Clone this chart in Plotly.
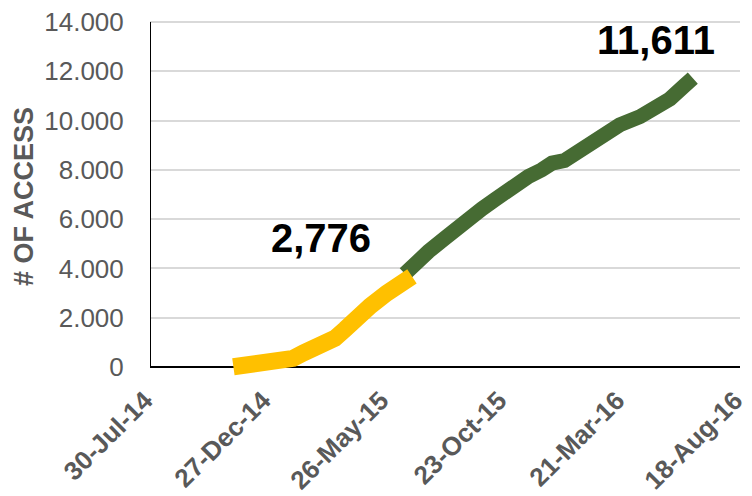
import plotly.graph_objects as go

# Phase 1 (yellow)
yellow_dates = ["2014-11-13", "2014-12-21", "2015-01-28", "2015-02-10", "2015-03-03",
                "2015-03-22", "2015-04-04", "2015-04-19", "2015-05-06", "2015-05-27",
                "2015-06-15", "2015-06-28"]
yellow_values = [10, 175, 350, 570, 800, 1165, 1530, 2040, 2475, 3000, 3420, 3680]

# Phase 2 (green)
green_dates = ["2015-06-19", "2015-07-06", "2015-07-19", "2015-08-09", "2015-09-03",
               "2015-09-25", "2015-10-11", "2015-10-28", "2015-11-23", "2015-12-10",
               "2015-12-23", "2016-01-08", "2016-01-29", "2016-02-22", "2016-03-18",
               "2016-04-13", "2016-04-29", "2016-05-21", "2016-06-07", "2016-06-19"]
green_values = [3783, 4351, 4688, 5231, 5945, 6419, 6784, 7190, 7729, 8000,
                8272, 8380, 8800, 9351, 9825, 10162, 10434, 10880, 11378, 11720]

x_tick_vals = ["2014-07-30", "2014-12-27", "2015-05-26", "2015-10-23", "2016-03-21", "2016-08-18"]
x_tick_text = ["30-Jul-14", "27-Dec-14", "26-May-15", "23-Oct-15", "21-Mar-16", "18-Aug-16"]
y_tick_vals = [0, 2000, 4000, 6000, 8000, 10000, 12000, 14000]
y_tick_text = ["0", "2.000", "4.000", "6.000", "8.000", "10.000", "12.000", "14.000"]

label_phase1 = "2,776"
label_phase2 = "11,611"
y_title = "# OF ACCESS"

FONT = "Liberation Sans, Arial"
GRAY = "#595959"
Y_MIN = -487   # a little room below zero so the thick line is not clipped
Y_MAX = 14041  # a hair above the top gridline so it is drawn

fig = go.Figure()
fig.add_trace(go.Scatter(x=green_dates, y=green_values, mode="lines",
                         line=dict(color="#466B33", width=15), hoverinfo="skip"))
fig.add_trace(go.Scatter(x=yellow_dates, y=yellow_values, mode="lines",
                         line=dict(color="#FFC000", width=17), hoverinfo="skip"))

fig.add_annotation(x="2015-03-04", y=5250, text=label_phase1, showarrow=False,
                   font=dict(family=FONT, size=40, color="black", weight="bold"))
fig.add_annotation(x="2016-05-03", y=13250, text=label_phase2, showarrow=False,
                   font=dict(family=FONT, size=40, color="black", weight="bold"))
fig.add_annotation(xref="paper", yref="y", x=(24 - 150) / 590, y=6900,
                   text=y_title, textangle=-90, showarrow=False,
                   xanchor="center", yanchor="middle",
                   font=dict(family=FONT, size=27, color=GRAY, weight="bold"))

# left axis line from 0 up to the top
fig.add_shape(type="line", xref="x", yref="y", x0=x_tick_vals[0], x1=x_tick_vals[0],
              y0=0, y1=14000, line=dict(color="black", width=2), layer="above")

fig.update_layout(
    width=744, height=488,
    margin=dict(l=142, r=12, t=13, b=117, autoexpand=False),
    paper_bgcolor="white", plot_bgcolor="white",
    showlegend=False,
    font=dict(family=FONT, color=GRAY),
    xaxis=dict(type="date", range=["2014-07-30", "2016-08-18"], automargin=False,
               tickvals=x_tick_vals, ticktext=x_tick_text, tickangle=-45,
               tickfont=dict(size=26, color=GRAY, weight="bold"),
               ticklabeloverflow="allow", ticklabelshift=-5,
               showgrid=False, zeroline=False, showline=False, ticks=""),
    yaxis=dict(range=[Y_MIN, Y_MAX], tickvals=y_tick_vals, ticktext=y_tick_text, automargin=False,
               tickfont=dict(size=26, color=GRAY),
               ticklabeloverflow="allow",
               showgrid=True, gridcolor="#D9D9D9", gridwidth=2,
               zeroline=True, zerolinecolor="black", zerolinewidth=2,
               showline=False,
               ticks="outside", ticklen=20, tickcolor="rgba(0,0,0,0)"),
)

fig.write_html("out.html")
